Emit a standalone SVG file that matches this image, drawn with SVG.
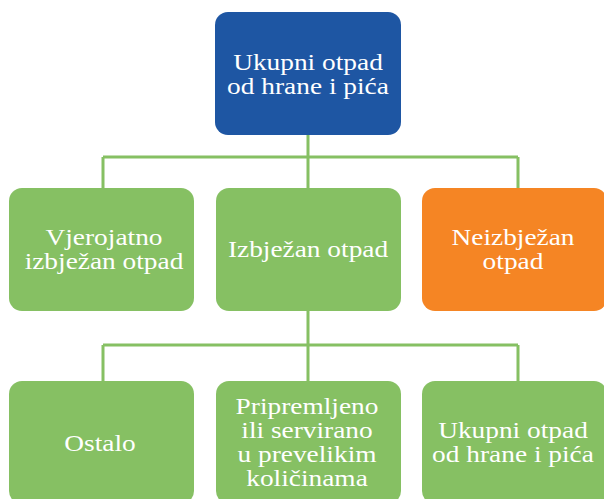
<svg xmlns="http://www.w3.org/2000/svg" width="604" height="499" viewBox="0 0 604 499">
<style>
.box{stroke:none}
.blue{fill:#1e56a3}
.green{fill:#86c063}
.orange{fill:#f58524}
.t{font-family:"Liberation Serif","DejaVu Serif",serif;font-size:23px;fill:#ffffff;text-anchor:middle}
.conn{fill:none;stroke:#86c063;stroke-width:3}
</style>
<rect width="604" height="499" fill="#ffffff"/>
<g id="connectors">
<path class="conn" d="M308,135 V188 M103,157 H518 M103,157 V188 M518,157 V188"/>
<path class="conn" d="M308,311 V381 M103,345 H518 M103,345 V381 M518,345 V381"/>
</g>
<g id="n-root">
<rect class="box blue" x="215" y="12" width="186" height="123" rx="13"/>
<text class="t" transform="translate(308 70) scale(1.19 1)">Ukupni otpad</text>
<text class="t" transform="translate(308 94) scale(1.19 1)">od hrane i pića</text>
</g>
<g id="n-vjerojatno">
<rect class="box green" x="9" y="188" width="185" height="123" rx="13"/>
<text class="t" transform="translate(104 245) scale(1.19 1)">Vjerojatno</text>
<text class="t" transform="translate(104 269) scale(1.19 1)">izbježan otpad</text>
</g>
<g id="n-izbjezan">
<rect class="box green" x="216" y="188" width="185" height="123" rx="13"/>
<text class="t" transform="translate(308 257) scale(1.19 1)">Izbježan otpad</text>
</g>
<g id="n-neizbjezan">
<rect class="box orange" x="422" y="188" width="185" height="123" rx="13"/>
<text class="t" transform="translate(513 245) scale(1.19 1)">Neizbježan</text>
<text class="t" transform="translate(513 269) scale(1.19 1)">otpad</text>
</g>
<g id="n-ostalo">
<rect class="box green" x="9" y="381" width="185" height="123" rx="13"/>
<text class="t" transform="translate(100 451) scale(1.19 1)">Ostalo</text>
</g>
<g id="n-pripremljeno">
<rect class="box green" x="216" y="381" width="185" height="123" rx="13"/>
<text class="t" transform="translate(307 414) scale(1.19 1)">Pripremljeno</text>
<text class="t" transform="translate(307 438) scale(1.19 1)">ili servirano</text>
<text class="t" transform="translate(307 462) scale(1.19 1)">u prevelikim</text>
<text class="t" transform="translate(307 486) scale(1.19 1)">količinama</text>
</g>
<g id="n-ukupni2">
<rect class="box green" x="422" y="381" width="185" height="123" rx="13"/>
<text class="t" transform="translate(513 438) scale(1.19 1)">Ukupni otpad</text>
<text class="t" transform="translate(513 462) scale(1.19 1)">od hrane i pića</text>
</g>
</svg>
